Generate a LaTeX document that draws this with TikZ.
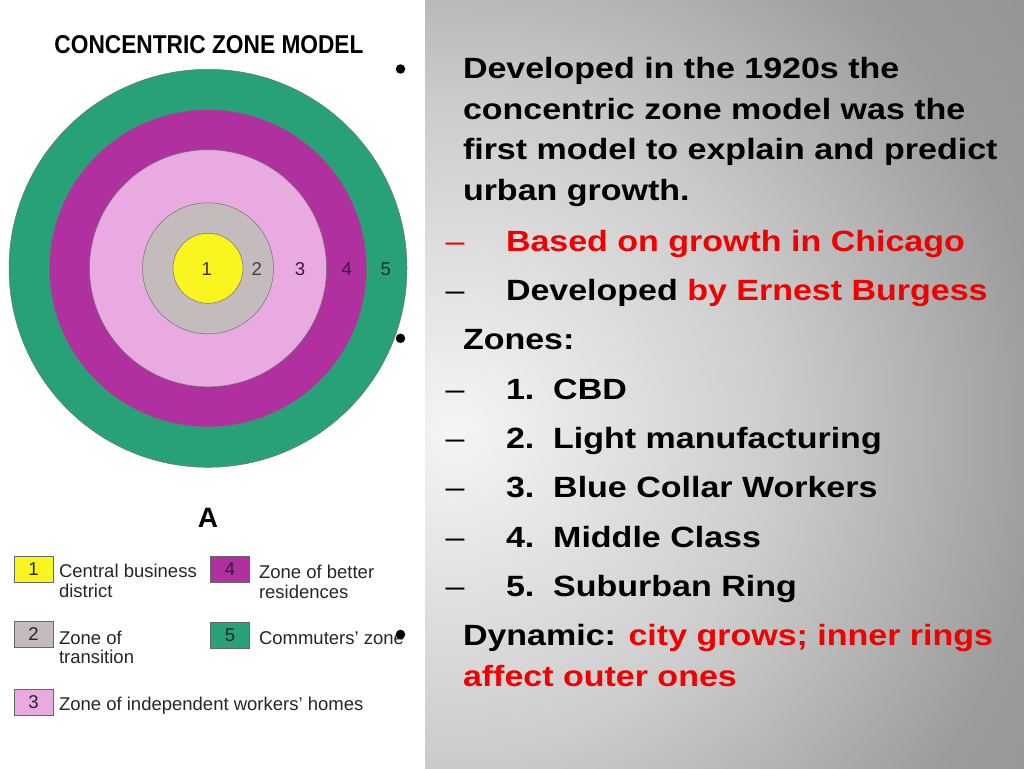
\documentclass[tikz,border=0pt]{standalone}
\usepackage{fontspec}
\setmainfont{Liberation Sans}

\definecolor{zoneyellow}{HTML}{FAF51E}
\definecolor{zonegray}{HTML}{C4BCBC}
\definecolor{zonepink}{HTML}{E8AAE1}
\definecolor{zonemagenta}{HTML}{B030A0}
\definecolor{zonegreen}{HTML}{28A078}
\definecolor{slidered}{HTML}{F00000}
\pgfdeclareradialshading{panelglow}{\pgfpoint{0bp}{0bp}}{color(0bp)=(white!96!black); color(10.7bp)=(white!80!black); color(19.5bp)=(white!61!black); color(33bp)=(white!52!black); color(50bp)=(white!52!black)}

\begin{document}
\begin{tikzpicture}[x=1pt, y=-1pt,
    every node/.style={inner sep=0pt, outer sep=0pt},
    ring/.style={circle, draw=black!55, line width=0.5pt},
    zonenum/.style={anchor=base, font=\fontsize{18.6}{20}\selectfont},
    keybox/.style={draw=black!60, line width=0.5pt, minimum width=39pt, minimum height=26pt,
        font=\fontsize{18.5}{20}\selectfont, text=black!85},
    keytext/.style={anchor=base west, font=\fontsize{18.5}{20}\selectfont, text=black!85},
    bodytext/.style={anchor=base west, font=\bfseries\fontsize{29.3}{35}\selectfont, xscale=1.16},
    dashmark/.style={anchor=base, font=\fontsize{29.3}{35}\selectfont, xscale=1.16},
    dotmark/.style={circle, fill=black, minimum size=9.5pt}]

    \useasboundingbox[fill=white] (0,0) rectangle (1024,768);

    % RIGHT: gray panel
        \begin{scope}
            \clip (425,0) rectangle (1024,768);
            \shade[shading=panelglow] (455,430) circle (760);
        \end{scope}

    % LEFT: Concentric rings
        \node[anchor=base, font=\bfseries\fontsize{25.8}{30}\selectfont, xscale=.88] (title) at (209,53) {CONCENTRIC ZONE MODEL};
        \foreach \z/\d/\c in {5/398/zonegreen, 4/317/zonemagenta, 3/237/zonepink, 2/131/zonegray, 1/70/zoneyellow}
            \node[ring, fill=\c, minimum size=\d pt] (zone\z) at (208,268.3) {};
        \foreach \z/\x/\c in {1/206.7/black!80, 2/256.7/black!75, 3/300/black!60!zonemagenta, 4/346.7/black!60!zonemagenta, 5/385.7/black!65!zonegreen}
            \node[zonenum, text=\c] (num\z) at (\x,275) {\z};

    % Legend
        \node[anchor=base, font=\bfseries\fontsize{28}{30}\selectfont] (letterA) at (208,527) {A};
        \foreach \z/\x/\y/\c in {1/33.5/569/zoneyellow, 2/33.5/634/zonegray, 3/33.5/702/zonepink, 4/230/569.5/zonemagenta, 5/230/635.5/zonegreen}
            \node[keybox, fill=\c] (key\z) at (\x,\y) {\z};
        \node[keytext] (key1a) at (59,577) {Central business};
        \node[keytext] (key1b) at (59,597) {district};
        \node[keytext] (key2a) at (59,644) {Zone of};
        \node[keytext] (key2b) at (59,663.5) {transition};
        \node[keytext] (key3a) at (59,710) {Zone of independent workers' homes};
        \node[keytext] (key4a) at (259,578.3) {Zone of better};
        \node[keytext] (key4b) at (259,598.3) {residences};
        \node[keytext] (key5a) at (259,644) {Commuters' zone};

    % RIGHT: Bullet text
        \foreach \y [count=\i] in {69, 338.3, 634.4}
            \node[dotmark] (dot\i) at (400.5,\y) {};
        \node[dashmark, text=slidered] (dash0) at (455,251) {–};
        \foreach \y [count=\i] in {300.5, 399.1, 448.4, 497.7, 547, 596.3}
            \node[dashmark] (dash\i) at (455,\y) {–};

        \node[bodytext] (devA) at (463,78.5) {Developed in the 1920s the};
        \node[bodytext] (devB) at (463,119.2) {concentric zone model was the};
        \node[bodytext] (devC) at (463,159.9) {first model to explain and predict};
        \node[bodytext] (devD) at (463,200.6) {urban growth.};
        \node[bodytext, text=slidered] (chicago) at (506,251) {Based on growth in Chicago};
        \node[bodytext] (burgess) at (506,300.5) {Developed \textcolor{slidered}{by Ernest Burgess}};
        \node[bodytext] (zones) at (463,349.8) {Zones:};
        \foreach \t/\y [count=\i] in {CBD/399.1, Light manufacturing/448.4, Blue Collar Workers/497.7, Middle Class/547, Suburban Ring/596.3}
            \node[bodytext] (item\i) at (506,\y) {\i.\ \ \t};
        \node[bodytext] (dynamic) at (463,645.6) {Dynamic: \textcolor{slidered}{city grows; inner rings}};
        \node[bodytext, text=slidered] (affect) at (463,686.3) {affect outer ones};
\end{tikzpicture}
\end{document}
